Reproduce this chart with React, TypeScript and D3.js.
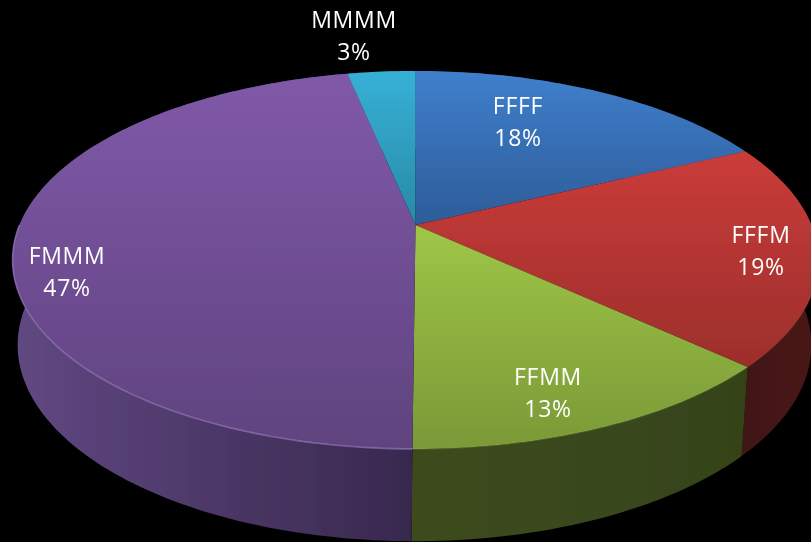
import React from 'react';
import * as d3 from 'd3';

const categories = ['FFFF', 'FFFM', 'FFMM', 'FMMM', 'MMMM'];
const shares = [17.8, 19.1, 13.2, 46.65, 3.25];
const topColors = [
  ['#3f7fcd', '#2d5c98'],
  ['#ca3c39', '#9c2e2b'],
  ['#9fc647', '#7a9937'],
  ['#8059a9', '#5f437f'],
  ['#36b0d6', '#288aa6'],
];
const wallColors = [
  ['#1f3a60', '#1f3a60'],
  ['#3f1412', '#4c1816'],
  ['#3d4c1e', '#354319'],
  ['#604882', '#38284e'],
  ['#1a5566', '#1a5566'],
];
const rimColors = ['#5f95d8', '#d86a66', '#b3d46e', '#a082c8', '#66c4e0'];
const labelAnchors = [
  [518, 106],
  [761, 235],
  [548, 377],
  [67, 256],
  [354, 20],
];

const width = 811;
const height = 542;
const tilt = 0.185; // perspective of the tilted disc, the back edge is further away
const topPlane = { cx: 415.5, cy: 225, sx: 396, sy: 182.5 };
const bottomPlane = { cx: 414.5, cy: 308.8, sx: 390, sy: 189.4 };

type Plane = typeof topPlane;

// angle is clockwise from twelve o'clock, like d3.pie
function project(plane: Plane, angle: number): [number, number] {
  const u = Math.sin(angle);
  const v = Math.cos(angle);
  const d = 1 + tilt * v;
  return [plane.cx + (plane.sx * u) / d, plane.cy - (plane.sy * v) / d];
}

function arcPoints(plane: Plane, a0: number, a1: number) {
  const n = Math.max(2, Math.ceil((a1 - a0) / 0.02));
  return d3.range(n + 1).map((i) => project(plane, a0 + ((a1 - a0) * i) / n));
}

const line = d3.line();
const slices = d3.pie<number>().sort(null)(shares);
// only the near half of the rim catches the light
const nearSlices = slices.filter((s) => s.endAngle > Math.PI / 2 && s.startAngle < (Math.PI * 3) / 2);

export default function App() {
  return (
    <svg
      width={width}
      height={height}
      style={{ position: 'absolute', left: 0, top: 0, display: 'block' }}
    >
      <defs>
        <filter id="soft" x="-5%" y="-5%" width="110%" height="110%">
          <feGaussianBlur stdDeviation="0.7" />
        </filter>
        {slices.map((s, i) => (
          <linearGradient key={i} id={`top${i}`} x1="0" y1="0" x2="0" y2="1">
            <stop offset="0" stopColor={topColors[i][0]} />
            <stop offset="1" stopColor={topColors[i][1]} />
          </linearGradient>
        ))}
        {slices.map((s, i) => (
          <linearGradient key={i} id={`wall${i}`} x1="0" y1="0" x2="1" y2="0">
            <stop offset="0" stopColor={wallColors[i][0]} />
            <stop offset="1" stopColor={wallColors[i][1]} />
          </linearGradient>
        ))}
      </defs>
      <rect width={width} height={height} fill="#000" />
      <g filter="url(#soft)">
        {slices.map((s, i) => (
          <path
            key={i}
            fill={`url(#wall${i})`}
            d={
              line([
                ...arcPoints(topPlane, s.startAngle, s.endAngle),
                ...arcPoints(bottomPlane, s.startAngle, s.endAngle).reverse(),
              ]) + 'Z'
            }
          />
        ))}
        {slices.map((s, i) => (
          <path
            key={i}
            fill={`url(#top${i})`}
            d={
              line([
                [topPlane.cx, topPlane.cy],
                ...arcPoints(topPlane, s.startAngle, s.endAngle),
              ]) + 'Z'
            }
          />
        ))}
        {nearSlices.map((s) => (
          <path
            key={s.index}
            fill="none"
            stroke={rimColors[s.index]}
            strokeOpacity={s.index === 3 ? 0.6 : 0.15}
            strokeWidth={1.6}
            d={line(arcPoints(topPlane, Math.max(s.startAngle, Math.PI / 2), Math.min(s.endAngle, (Math.PI * 3) / 2))) ?? ''}
          />
        ))}
      </g>
      <g
        fill="#fff"
        fontFamily="'Open Sans', sans-serif"
        fontSize={23}
        letterSpacing={0.7}
        textAnchor="middle"
        filter="url(#soft)"
      >
        {categories.map((c, i) => (
          <g key={c} transform={`translate(${labelAnchors[i][0]},${labelAnchors[i][1]})`}>
            <text y={8}>{c}</text>
            <text y={40}>{`${Math.round(shares[i])}%`}</text>
          </g>
        ))}
      </g>
    </svg>
  );
}
